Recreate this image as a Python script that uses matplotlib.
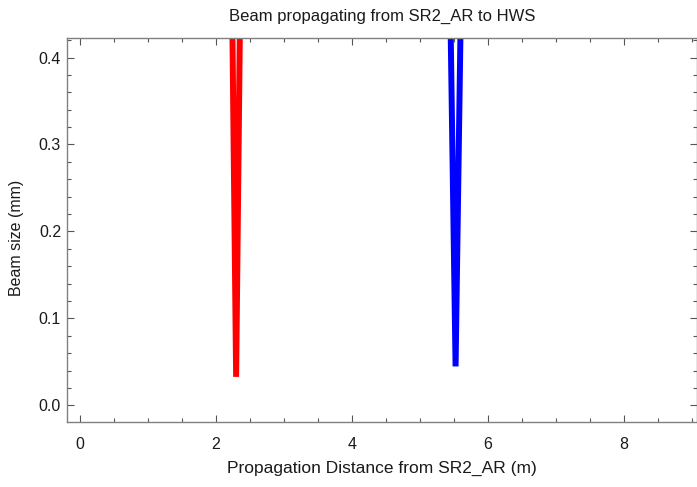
import matplotlib
matplotlib.use("Agg")
import matplotlib.pyplot as plt
from matplotlib.ticker import MultipleLocator

plt.rcParams['font.family'] = ['Liberation Sans', 'DejaVu Sans']

# Beam size (mm) vs propagation distance (m)
red_z = [2.2405, 2.298, 2.3555]
red_w = [0.45, 0.0329, 0.45]
blue_z = [5.450, 5.526, 5.602]
blue_w = [0.45, 0.0449, 0.45]

title = "Beam propagating from SR2_AR to HWS"
xlabel = "Propagation Distance from SR2_AR (m)"
ylabel = "Beam size (mm)"
x_ticks = [0, 2, 4, 6, 8]
y_ticks = [0.0, 0.1, 0.2, 0.3, 0.4]

fig = plt.figure(figsize=(6.97, 4.87), dpi=100)
ax = fig.add_axes([67 / 697, 65 / 487, 629.5 / 697, 384.5 / 487])

ax.plot(red_z, red_w, color='#ff0000', lw=4.3, solid_joinstyle='bevel', solid_capstyle='butt')
ax.plot(blue_z, blue_w, color='#0000ff', lw=4.3, solid_joinstyle='bevel', solid_capstyle='butt')

ax.set_xlim(-0.19, 9.07)
ax.set_ylim(-0.019, 0.423)
ax.set_xticks(x_ticks)
ax.set_yticks(y_ticks)
ax.set_xticklabels([str(v) for v in x_ticks])
ax.set_yticklabels([f"{v:.1f}" for v in y_ticks])
ax.xaxis.set_minor_locator(MultipleLocator(0.5))
ax.yaxis.set_minor_locator(MultipleLocator(0.02))

spine_col = '#808080'
for s in ax.spines.values():
    s.set_color(spine_col)
    s.set_linewidth(1.0)
ax.tick_params(which='both', direction='in', top=True, right=True, color='#555555', width=0.8)
ax.tick_params(which='major', length=5, labelsize=11.5, labelcolor='#1a1a1a')
ax.tick_params(which='minor', length=2.8)
ax.tick_params(axis='x', which='major', pad=10.5)
ax.tick_params(axis='y', which='major', pad=4.3)

ax.set_title(title, fontsize=12, color='#1a1a1a', pad=12)
ax.set_xlabel(xlabel, fontsize=12.5, color='#1a1a1a', labelpad=7)
ax.set_ylabel(ylabel, fontsize=11.5, color='#1a1a1a')
ax.yaxis.set_label_coords(-0.0683, 0.4785)

fig.savefig("out.png", dpi=100)
